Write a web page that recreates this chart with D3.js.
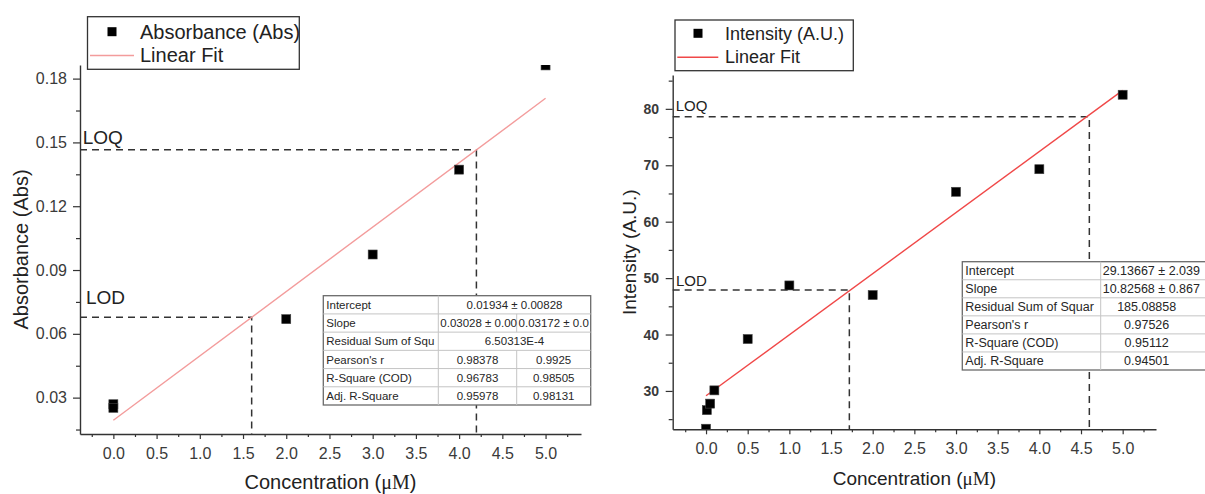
<!DOCTYPE html>
<html>
<head>
<meta charset="utf-8">
<script src="https://cdn.jsdelivr.net/npm/d3@7"></script>
<style>
  body { margin: 0; background: #fff; }
  svg { display: block; }
  text { font-family: "Liberation Sans", Arial, sans-serif; }
</style>
</head>
<body>
<svg id="chart" width="1205" height="494"></svg>
<script>
// ---- Absorbance calibration (left) ----
const absConc = [0, 0, 2, 3, 4, 5];
const absValues = [0.0269, 0.0252, 0.0669, 0.0973, 0.1372, 0.1862];
const absFit = [0.01934, 0.03028];          // intercept, slope
const absLOD = [1.6, 0.0678];               // concentration, absorbance
const absLOQ = [4.2, 0.1465];
const absYTicks = [0.03, 0.06, 0.09, 0.12, 0.15, 0.18];
const absRowLabels = ["Intercept", "Slope", "Residual Sum of Squ", "Pearson's r", "R-Square (COD)", "Adj. R-Square"];
const absRowValues = [
  ["0.01934 \u00b1 0.00828"],
  ["0.03028 \u00b1 0.00", "0.03172 \u00b1 0.0"],
  ["6.50313E-4"],
  ["0.98378", "0.9925"],
  ["0.96783", "0.98505"],
  ["0.95978", "0.98131"]
];

// ---- Intensity calibration (right) ----
const intConc = [0, 0.01, 0.05, 0.1, 0.5, 1, 2, 3, 4, 5];
const intValues = [23.3, 26.6, 27.75, 30.1, 39.2, 48.7, 47.0, 65.3, 69.3, 82.5];
const intFit = [29.13667, 10.82568];
const intLOD = [1.72, 47.9];
const intLOQ = [4.6, 78.6];
const intYTicks = [30, 40, 50, 60, 70, 80];
const intRowLabels = ["Intercept", "Slope", "Residual Sum of Squar", "Pearson's r", "R-Square (COD)", "Adj. R-Square"];
const intRowValues = [
  ["29.13667 \u00b1 2.039"],
  ["10.82568 \u00b1 0.867"],
  ["185.08858"],
  ["0.97526"],
  ["0.95112"],
  ["0.94501"]
];

// shared concentration axis
const concTicks = [0, 0.5, 1, 1.5, 2, 2.5, 3, 3.5, 4, 4.5, 5];

const INK = "#333";
const svg = d3.select("#chart");
svg.append("rect").attr("width", 1205).attr("height", 494).attr("fill", "#fff");

function text(parent, x, y, str, size, extra) {
  const t = parent.append("text").attr("x", x).attr("y", y)
    .attr("font-size", size).attr("fill", "#222").text(str);
  if (extra) Object.entries(extra).forEach(([k, v]) => t.attr(k, v));
  return t;
}

function concTitle(parent, cx, y, size) {
  const t = parent.append("text").attr("x", cx).attr("y", y)
    .attr("text-anchor", "middle").attr("font-size", size).attr("fill", "#222");
  t.append("tspan").text("Concentration (");
  t.append("tspan").attr("font-family", "'Liberation Serif', 'Times New Roman', serif").text("\u03bcM");
  t.append("tspan").text(")");
}

function drawPanel(p) {
  const x = d3.scaleLinear().domain(p.xDomain).range([p.left, p.right]);
  const y = d3.scaleLinear().domain(p.yDomain).range([p.bottom, p.top]);
  const g = svg.append("g");

  const clipId = p.id + "-plot";
  svg.append("clipPath").attr("id", clipId).append("rect")
    .attr("x", p.left).attr("y", p.top)
    .attr("width", p.right - p.left).attr("height", p.bottom - p.top);

  // LOD / LOQ guide lines: from the y axis to the fit, then down to the x axis
  [p.lod, p.loq].forEach(([c, v]) => {
    g.append("path")
      .attr("d", `M${x(p.xDomain[0])},${y(v)}H${x(c)}V${y(p.yDomain[0])}`)
      .attr("fill", "none").attr("stroke", INK).attr("stroke-width", 1.5)
      .attr("stroke-dasharray", "7,5");
  });

  // linear fit over the measured concentration range
  const fitLine = d3.line().x(d => x(d)).y(d => y(p.fit[0] + p.fit[1] * d));
  g.append("path").datum(d3.extent(p.conc))
    .attr("d", fitLine).attr("fill", "none")
    .attr("stroke", p.fitColor).attr("stroke-width", 1.4);

  // data markers
  const ms = 9;
  g.append("g").attr("clip-path", `url(#${clipId})`)
    .selectAll("rect").data(d3.zip(p.conc, p.values)).join("rect")
    .attr("x", d => x(d[0]) - ms / 2).attr("y", d => y(d[1]) - ms / 2)
    .attr("width", ms).attr("height", ms)
    .attr("fill", "#000").attr("stroke", "#444").attr("stroke-width", 0.6);

  // x axis
  const xa = g.append("g").attr("transform", `translate(0,${p.bottom})`);
  xa.append("g").call(d3.axisBottom(x).tickValues(d3.range(-0.25, 5.3, 0.5)).tickSize(3).tickFormat(""))
    .call(s => s.select(".domain").remove());
  xa.append("g").call(d3.axisBottom(x).tickValues(concTicks).tickSize(5).tickSizeOuter(0)
      .tickPadding(8.6).tickFormat(d3.format(".1f")));
  // y axis
  const ya = g.append("g").attr("transform", `translate(${p.left},0)`);
  ya.append("g").call(d3.axisLeft(y).tickValues(p.yMinor).tickSize(4).tickFormat(""))
    .call(s => s.select(".domain").remove());
  ya.append("g").call(d3.axisLeft(y).tickValues(p.yTicks).tickSize(7).tickSizeOuter(0)
      .tickPadding(p.yPad).tickFormat(p.yFormat));

  [xa, ya].forEach(a => {
    a.selectAll(".domain").attr("stroke", INK).attr("stroke-width", 1.4);
    a.selectAll(".tick line").attr("stroke", INK).attr("stroke-width", 1.2);
    a.selectAll("text").attr("fill", "#3a3a3a").attr("font-family", "'Liberation Sans', Arial, sans-serif");
  });
  xa.selectAll("text").attr("font-size", 16);
  ya.selectAll("text").attr("font-size", p.yFont).attr("font-weight", p.yWeight);

  // labels for the guide lines
  text(g, p.loqLabel[0], p.loqLabel[1], "LOQ", p.limitFont);
  text(g, p.lodLabel[0], p.lodLabel[1], "LOD", p.limitFont);

  // axis titles
  concTitle(g, (p.left + p.right) / 2, p.xTitleY, p.titleFont);
  g.append("text")
    .attr("transform", `translate(${p.yTitleX},${(p.top + p.bottom) / 2}) rotate(-90)`)
    .attr("text-anchor", "middle").attr("font-size", p.titleFont).attr("fill", "#222")
    .text(p.yTitle);

  drawTable(p.table);
  drawLegend(p.legend);
}

function drawTable(t) {
  const g = svg.append("g");
  const rh = (t.bottom - t.top) / t.labels.length;
  const last = t.cols[t.cols.length - 1];
  g.append("rect").attr("x", t.cols[0]).attr("y", t.top)
    .attr("width", t.extendTo - t.cols[0]).attr("height", t.bottom - t.top)
    .attr("fill", "#fff").attr("stroke", "#6a6a6a").attr("stroke-width", 1.3);
  t.labels.forEach((lab, i) => {
    const top = t.top + i * rh;
    if (i > 0) g.append("line").attr("x1", t.cols[0]).attr("x2", t.extendTo)
      .attr("y1", top).attr("y2", top).attr("stroke", "#c4c4c4").attr("stroke-width", 1);
    const vals = t.values[i];
    // column dividers for this row
    const edges = vals.length === 1 ? [t.cols[0], t.cols[1], last] : t.cols;
    edges.slice(1, -1).forEach(cx => g.append("line").attr("x1", cx).attr("x2", cx)
      .attr("y1", top).attr("y2", top + rh).attr("stroke", "#c4c4c4").attr("stroke-width", 1));
    const base = top + rh / 2 + t.font * 0.36;
    // label cell, clipped to its column
    const cid = `${t.id}-c${i}`;
    g.append("clipPath").attr("id", cid).append("rect")
      .attr("x", t.cols[0]).attr("y", top).attr("width", t.cols[1] - t.cols[0] - 1).attr("height", rh);
    text(g, t.cols[0] + 3, base, lab, t.font, { "clip-path": `url(#${cid})`, fill: "#262626" });
    vals.forEach((v, j) => {
      const x0 = edges[j + 1], x1 = edges[j + 2];
      const vid = `${t.id}-c${i}-${j}`;
      g.append("clipPath").attr("id", vid).append("rect")
        .attr("x", x0).attr("y", top).attr("width", x1 - x0).attr("height", rh);
      const el = text(g, (x0 + x1) / 2, base, v, t.font,
        { "text-anchor": "middle", "clip-path": `url(#${vid})`, fill: "#262626" });
      if (el.node().getComputedTextLength() > x1 - x0 - 2) {
        el.attr("text-anchor", "start").attr("x", x0 + 2).attr("clip-path", null);
      }
    });
  });
}

function drawLegend(l) {
  const g = svg.append("g");
  g.append("rect").attr("x", l.box[0]).attr("y", l.box[1])
    .attr("width", l.box[2] - l.box[0]).attr("height", l.box[3] - l.box[1])
    .attr("fill", "#fff").attr("stroke", INK).attr("stroke-width", 1.3);
  g.append("rect").attr("x", l.marker[0] - 4.5).attr("y", l.marker[1] - 4.5)
    .attr("width", 9).attr("height", 9).attr("fill", "#000");
  g.append("line").attr("x1", l.line[0]).attr("x2", l.line[1])
    .attr("y1", l.line[2]).attr("y2", l.line[2])
    .attr("stroke", l.color).attr("stroke-width", 1.5);
  text(g, l.textX, l.rows[0], l.names[0], l.font);
  text(g, l.textX, l.rows[1], l.names[1], l.font);
}

drawPanel({
  id: "abs", left: 80, right: 581, top: 65, bottom: 434,
  xDomain: [-0.386, 5.41], yDomain: [0.0129, 0.1864],
  conc: absConc, values: absValues, fit: absFit, lod: absLOD, loq: absLOQ,
  fitColor: "#f39c9c",
  yTicks: absYTicks, yMinor: d3.range(0.015, 0.18, 0.03), yFormat: d3.format(".2f"),
  yPad: 6, yFont: 16, yWeight: "normal",
  limitFont: 19, loqLabel: [82.7, 144], lodLabel: [86, 304],
  titleFont: 20, xTitleY: 489, yTitleX: 28, yTitle: "Absorbance (Abs)",
  table: { id: "abst", cols: [323.3, 438.3, 516.7, 590.7], extendTo: 590.7,
           top: 295.7, bottom: 405, font: 11.5, labels: absRowLabels, values: absRowValues },
  legend: { box: [87.5, 16.7, 299.3, 69.3], marker: [112, 31.7], line: [90, 134, 55.5],
            color: "#f39c9c", textX: 140, rows: [39, 62], font: 20,
            names: ["Absorbance (Abs)", "Linear Fit"] }
});

drawPanel({
  id: "int", left: 672.7, right: 1156, top: 75, bottom: 429.3,
  xDomain: [-0.4, 5.4], yDomain: [23.2, 86.0],
  conc: intConc, values: intValues, fit: intFit, lod: intLOD, loq: intLOQ,
  fitColor: "#f04848",
  yTicks: intYTicks, yMinor: d3.range(25, 86, 10), yFormat: d3.format("d"),
  yPad: 6.7, yFont: 14, yWeight: "bold",
  limitFont: 15, loqLabel: [675.7, 111], lodLabel: [676, 286],
  titleFont: 19, xTitleY: 485, yTitleX: 636, yTitle: "Intensity (A.U.)",
  table: { id: "intt", cols: [962.3, 1100.7, 1192.7], extendTo: 1260,
           top: 261.7, bottom: 370, font: 12.5, labels: intRowLabels, values: intRowValues },
  legend: { box: [675, 20, 853.3, 70.7], marker: [698, 33.3], line: [677.3, 718.3, 57.3],
            color: "#f04848", textX: 725, rows: [39.5, 63], font: 18,
            names: ["Intensity (A.U.)", "Linear Fit"] }
});
</script>
</body>
</html>
